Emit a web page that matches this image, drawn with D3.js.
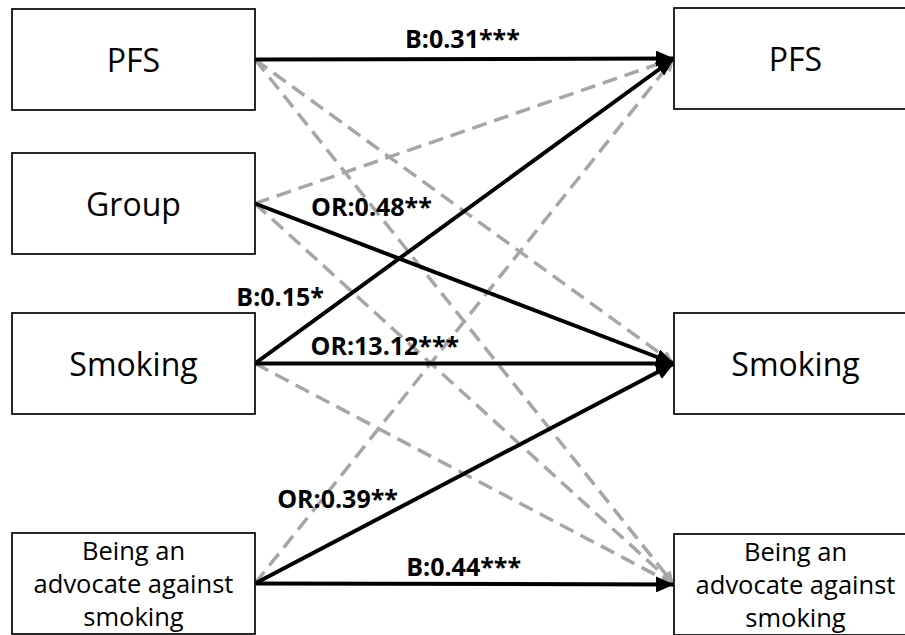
<!DOCTYPE html>
<html lang="en">
<head>
  <meta charset="UTF-8">
  <title>Path model</title>
  <script src="https://d3js.org/d3.v7.min.js"></script>
  <style>
    body { margin: 0; background: #fff; }
    svg { display: block; }
    .box { fill: #fff; stroke: #111; stroke-width: 1.8px; }
    .name { font-family: "Open Sans", sans-serif; fill: #000; }
    .coef { font-family: "Open Sans", sans-serif; font-weight: bold; font-size: 25px; fill: #000; }
  </style>
</head>
<body>
  <div id="chart"></div>

  <script>
    // variables at baseline (left) and follow-up (right)
    const variables = ["PFS", "Group", "Smoking", "Being an advocate against smoking"];
    const outcomes = ["PFS", "Smoking", "Being an advocate against smoking"];

    // significant paths
    const sigFrom = ["PFS", "Group", "Smoking", "Smoking", "Being an advocate against smoking", "Being an advocate against smoking"];
    const sigTo = ["PFS", "Smoking", "PFS", "Smoking", "Smoking", "Being an advocate against smoking"];
    const sigLabel = ["B:0.31***", "OR:0.48**", "B:0.15*", "OR:13.12***", "OR:0.39**", "B:0.44***"];

    // non-significant paths (dashed)
    const nsFrom = ["PFS", "PFS", "Group", "Group", "Smoking", "Being an advocate against smoking"];
    const nsTo = ["Smoking", "Being an advocate against smoking", "PFS", "Being an advocate against smoking", "Being an advocate against smoking", "PFS"];

    // where each coefficient sits along its path (fraction, vertical offset)
    const labelT = [0.495, 0.278, 0.06, 0.31, 0.197, 0.498];
    const labelDy = [-21, -42, -49, -19, -42, -18];

    const width = 905, height = 635;
    const boxW = 243, boxH = 101;
    const leftX = 12, rightX = 674;

    // row tops of the boxes
    const yLeft = d3.scaleOrdinal().domain(variables).range([9, 153, 313, 533]);
    const yRight = d3.scaleOrdinal().domain(outcomes).range([8, 313, 534]);

    const svg = d3.select("#chart").append("svg")
      .attr("width", width)
      .attr("height", height);

    const defs = svg.append("defs");
    defs.append("marker")
      .attr("id", "headBlack")
      .attr("markerUnits", "userSpaceOnUse")
      .attr("viewBox", "0 0 18 16")
      .attr("refX", 18).attr("refY", 8)
      .attr("markerWidth", 18).attr("markerHeight", 16)
      .attr("orient", "auto")
      .append("path").attr("d", "M0,0 L18,8 L0,16 Z").attr("fill", "#000");
    defs.append("marker")
      .attr("id", "headGrey")
      .attr("markerUnits", "userSpaceOnUse")
      .attr("viewBox", "0 0 13 12")
      .attr("refX", 13).attr("refY", 6)
      .attr("markerWidth", 13).attr("markerHeight", 12)
      .attr("orient", "auto")
      .append("path").attr("d", "M0,0 L13,6 L0,12 Z").attr("fill", "#a6a6a6");

    const startPt = name => [leftX + boxW, yLeft(name) + boxH / 2];
    const endPt = name => [rightX, yRight(name) + boxH / 2];

    const line = d3.line();

    // dashed paths first, solid ones on top
    svg.append("g").selectAll("path")
      .data(d3.range(nsFrom.length))
      .join("path")
      .attr("d", i => line([startPt(nsFrom[i]), endPt(nsTo[i])]))
      .attr("fill", "none")
      .attr("stroke", "#a6a6a6")
      .attr("stroke-width", 3.5)
      .attr("stroke-dasharray", "15,8")
      .attr("marker-end", "url(#headGrey)");

    svg.append("g").selectAll("path")
      .data(d3.range(sigFrom.length))
      .join("path")
      .attr("d", i => line([startPt(sigFrom[i]), endPt(sigTo[i])]))
      .attr("fill", "none")
      .attr("stroke", "#000")
      .attr("stroke-width", 4)
      .attr("marker-end", "url(#headBlack)");

    // coefficients
    svg.append("g").selectAll("text")
      .data(d3.range(sigLabel.length))
      .join("text")
      .attr("class", "coef")
      .attr("text-anchor", "middle")
      .attr("dominant-baseline", "central")
      .attr("x", i => {
        const a = startPt(sigFrom[i]), b = endPt(sigTo[i]);
        return a[0] + (b[0] - a[0]) * labelT[i];
      })
      .attr("y", i => {
        const a = startPt(sigFrom[i]), b = endPt(sigTo[i]);
        return a[1] + (b[1] - a[1]) * labelT[i] + labelDy[i];
      })
      .text(i => sigLabel[i]);

    // boxes
    function drawBoxes(names, x, yScale) {
      const g = svg.append("g").selectAll("g")
        .data(names)
        .join("g")
        .attr("transform", d => `translate(${x},${yScale(d)})`);

      g.append("rect")
        .attr("class", "box")
        .attr("width", boxW)
        .attr("height", boxH);

      g.each(function(d) {
        const t = d3.select(this).append("text")
          .attr("class", "name")
          .attr("text-anchor", "middle");
        if (d.length > 12) {
          const lines = ["Being an", "advocate against", "smoking"];
          t.style("font-size", "25.5px");
          lines.forEach((s, k) => {
            t.append("tspan")
              .attr("x", boxW / 2)
              .attr("y", 27 + k * 33)
              .text(s);
          });
        } else {
          t.style("font-size", "32px")
            .attr("x", boxW / 2)
            .attr("y", boxH / 2)
            .attr("dominant-baseline", "central")
            .text(d);
        }
      });
    }

    drawBoxes(variables, leftX, yLeft);
    drawBoxes(outcomes, rightX, yRight);
  </script>
</body>
</html>
